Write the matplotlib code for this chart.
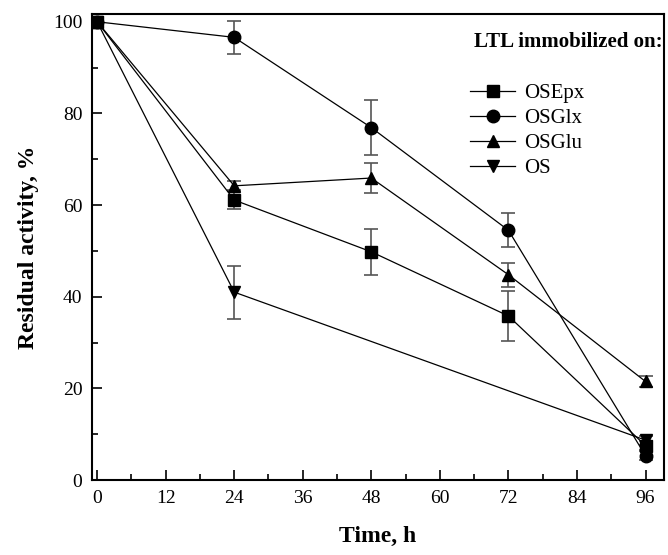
import matplotlib
matplotlib.use("Agg")
import matplotlib.pyplot as plt
from matplotlib.ticker import MultipleLocator

plt.rcParams['font.family'] = ['Liberation Serif', 'DejaVu Serif']

time_h = [0, 24, 48, 72, 96]
labels = ["OSEpx", "OSGlx", "OSGlu", "OS"]
markers = ["s", "o", "^", "v"]

osepx = [100, 61.1, 49.8, 35.8, 7.5]
osepx_err = [0.5, 2.0, 5.0, 5.5, 1.0]
osglx = [100, 96.6, 76.9, 54.5, 5.3]
osglx_err = [0.5, 3.6, 6.0, 3.7, 1.0]
osglu = [100, 64.2, 65.9, 44.8, 21.5]
osglu_err = [0.5, 1.0, 3.2, 2.6, 1.3]
os_ = [100, 41.0, None, None, 8.7]
os_err = [0.5, 5.8, None, None, 1.0]

series = [(osepx, osepx_err), (osglx, osglx_err), (osglu, osglu_err), (os_, os_err)]

fig = plt.figure(figsize=(6.68, 5.55), dpi=100)
ax = fig.add_axes([0.1377, 0.1351, 0.856, 0.8397])

for (vals, errs), lab, mk in zip(series, labels, markers):
    xs = [t for t, v in zip(time_h, vals) if v is not None]
    ys = [v for v in vals if v is not None]
    es = [e for e in errs if e is not None]
    ax.errorbar(xs, ys, yerr=es, fmt='none', ecolor='#555555', elinewidth=1.2,
                capsize=5, capthick=1.2, zorder=2)
    ax.plot(xs, ys, color='black', lw=0.9, marker=mk, markersize=9,
            markerfacecolor='black', markeredgecolor='black', label=lab, zorder=3)

ax.set_xlim(-0.9, 99.2)
ax.set_ylim(0, 101.7)
ax.xaxis.set_major_locator(MultipleLocator(12))
ax.xaxis.set_minor_locator(MultipleLocator(6))
ax.yaxis.set_major_locator(MultipleLocator(20))
ax.yaxis.set_minor_locator(MultipleLocator(10))
ax.tick_params(which='both', direction='in', top=False, right=False, width=1.2)
ax.tick_params(which='major', length=7, labelsize=14, pad=7)
ax.tick_params(which='minor', length=4)
for s in ax.spines.values():
    s.set_linewidth(1.5)

ax.set_xlabel("Time, h", fontsize=17, fontweight='bold', labelpad=14)
ax.set_ylabel("Residual activity, %", fontsize=17, fontweight='bold', labelpad=10)

ax.text(0.998, 0.94, "LTL immobilized on:", transform=ax.transAxes, ha='right',
        va='center', fontsize=15, fontweight='bold')
ax.legend(loc='upper left', bbox_to_anchor=(0.647, 0.869), frameon=False,
          fontsize=15, handlelength=2.16, handletextpad=0.43, labelspacing=0.26,
          borderaxespad=0)

fig.savefig("out.png", dpi=100)
